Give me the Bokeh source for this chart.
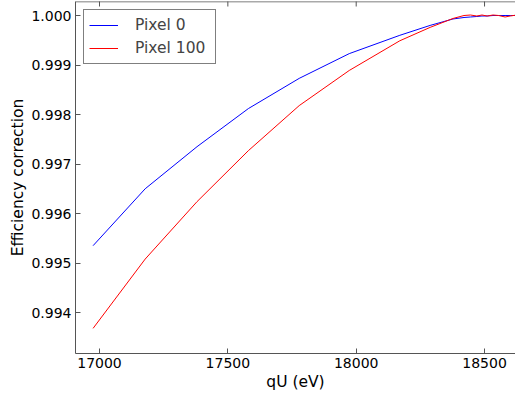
import math
from bokeh.plotting import figure
from bokeh.models import Range1d, FixedTicker, PrintfTickFormatter, Legend, LegendItem, Span
from bokeh.embed import file_html
from bokeh.resources import INLINE

qu = [16975, 17178, 17380, 17580, 17778, 17973, 18170, 18288, 18377, 18420,
      18445, 18470, 18490, 18510, 18533, 18555, 18580, 18600, 18625]
pixel0 = [0.99535, 0.99650, 0.99735, 0.99812, 0.99873, 0.99923, 0.99960, 0.99980,
          0.99993, 0.99996, 0.99997, 0.99998, 0.99999, 0.99999, 1.00000, 1.00000,
          1.00000, 1.00000, 1.00000]
pixel100 = [0.99368, 0.99508, 0.99624, 0.99727, 0.99818, 0.99889, 0.99949, 0.99976,
            0.99994, 1.00000, 1.00001, 0.99999, 1.00001, 0.99999, 1.00001, 1.00000,
            0.99997, 0.99999, 1.00001]
x_ticks = [17000, 17500, 18000, 18500]
y_ticks = [0.994, 0.995, 0.996, 0.997, 0.998, 0.999, 1.000]

FONT = "DejaVu Sans"
AX = "#555555"

yr = Range1d(0.993172, 1.000283)
p = figure(width=515, height=397, output_backend="svg", toolbar_location=None,
           x_range=Range1d(16906.5, 18620.6), y_range=yr,
           min_border_left=75, min_border_right=0, min_border_top=1, min_border_bottom=44)
p.outline_line_color = None
p.grid.visible = False
p.background_fill_color = "white"
p.border_fill_color = "white"

r0 = p.line(qu, pixel0, line_color="#0000ff", line_width=1)
r1 = p.line(qu, pixel100, line_color="#ff0000", line_width=1)

# top spine and inward top ticks (the outer half of each dash is clipped by the frame)
p.add_layout(Span(location=yr.end, dimension="width", line_color=AX, line_width=1.5))
p.scatter(x_ticks, [yr.end] * len(x_ticks), marker="dash", size=10, angle=math.pi / 2,
          line_color=AX, line_width=1)

def style(ax):
    ax.axis_line_color = AX
    ax.axis_line_width = 1
    ax.major_tick_line_color = AX
    ax.major_tick_in = 5
    ax.major_tick_out = 0
    ax.minor_tick_line_color = None
    ax.major_label_text_font = FONT
    ax.major_label_text_font_size = "14px"
    ax.major_label_text_color = "black"
    ax.axis_label_text_font = FONT
    ax.axis_label_text_font_size = "15.5px"
    ax.axis_label_text_font_style = "normal"
    ax.axis_label_text_color = "black"

xa = p.xaxis[0]
xa.ticker = FixedTicker(ticks=x_ticks)
xa.formatter = PrintfTickFormatter(format="%d")
xa.axis_label = "qU (eV)"
style(xa)
xa.major_label_standoff = 4
xa.axis_label_standoff = 2

ya = p.yaxis[0]
ya.ticker = FixedTicker(ticks=y_ticks)
ya.formatter = PrintfTickFormatter(format="%.3f")
ya.axis_label = "Efficiency correction"
style(ya)
ya.major_label_standoff = 4
ya.axis_label_standoff = 1

legend = Legend(items=[LegendItem(label="Pixel 0", renderers=[r0]),
                       LegendItem(label="Pixel 100", renderers=[r1])],
                location="top_left")
legend.margin = 8
legend.padding = 5
legend.spacing = 3
legend.glyph_width = 29
legend.glyph_height = 20
legend.label_height = 20
legend.label_width = 75
legend.label_standoff = 17
legend.label_text_font = FONT
legend.label_text_font_size = "15.5px"
legend.border_line_color = "black"
legend.border_line_width = 1
legend.background_fill_alpha = 1
p.add_layout(legend)

open("out.html", "w").write(file_html(p, INLINE))
